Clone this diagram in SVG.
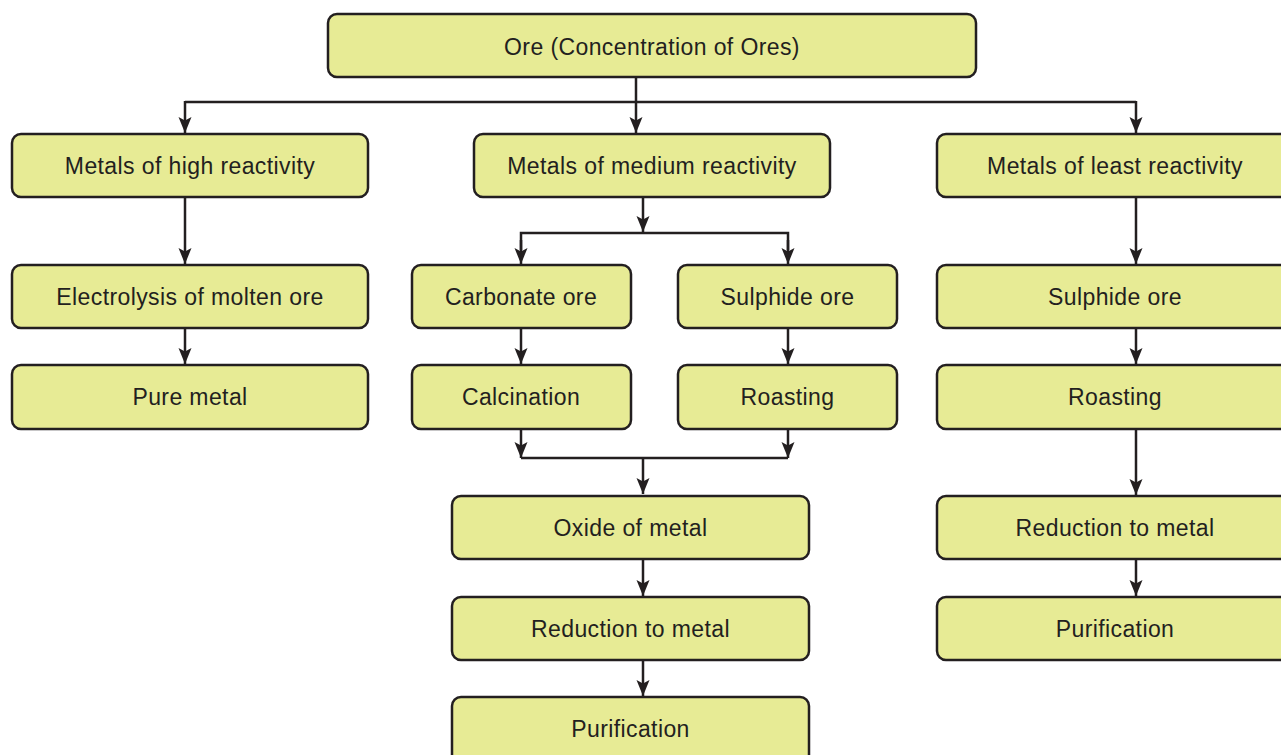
<svg xmlns="http://www.w3.org/2000/svg" width="1281" height="755" viewBox="0 0 1281 755">
<defs>
<style>
.box{fill:#e7eb95;stroke:#231f20;stroke-width:2.5}
.lbl{font-family:"Liberation Sans",Arial,sans-serif;font-size:23px;letter-spacing:0.4px;fill:#231f20;text-anchor:middle}
.ln{fill:none;stroke:#231f20;stroke-width:2.5}
.ar{fill:none;stroke:#231f20;stroke-width:2.5;marker-end:url(#ah)}
</style>
<marker id="ah" markerUnits="userSpaceOnUse" markerWidth="17" markerHeight="15" viewBox="0 0 17 15" refX="16" refY="7.5" orient="auto">
<path d="M0,1 L16,7.5 L0,14 L3.5,7.5 Z" fill="#231f20"/>
</marker>
</defs>
<rect width="1281" height="755" fill="#ffffff"/>
<g id="connectors">
<line class="ar" x1="636" y1="77" x2="636" y2="133"/>
<polyline class="ln" points="185,102 1136,102"/>
<line class="ar" x1="185" y1="101" x2="185" y2="133"/>
<line class="ar" x1="1136" y1="101" x2="1136" y2="133"/>
<line class="ar" x1="185" y1="197" x2="185" y2="264"/>
<line class="ar" x1="185" y1="328" x2="185" y2="364"/>
<line class="ar" x1="643" y1="197" x2="643" y2="232"/>
<polyline class="ln" points="521,250 521,233 788,233 788,250"/>
<line class="ar" x1="521" y1="240" x2="521" y2="264"/>
<line class="ar" x1="788" y1="240" x2="788" y2="264"/>
<line class="ar" x1="521" y1="328" x2="521" y2="364"/>
<line class="ar" x1="788" y1="328" x2="788" y2="364"/>
<line class="ar" x1="521" y1="429" x2="521" y2="458"/>
<line class="ar" x1="788" y1="429" x2="788" y2="458"/>
<polyline class="ln" points="521,458 788,458"/>
<line class="ar" x1="643" y1="458" x2="643" y2="494"/>
<line class="ar" x1="643" y1="559" x2="643" y2="596"/>
<line class="ar" x1="643" y1="660" x2="643" y2="696"/>
<line class="ar" x1="1136" y1="197" x2="1136" y2="264"/>
<line class="ar" x1="1136" y1="328" x2="1136" y2="364"/>
<line class="ar" x1="1136" y1="429" x2="1136" y2="495"/>
<line class="ar" x1="1136" y1="559" x2="1136" y2="596"/>
</g>
<g id="ore"><rect class="box" x="328" y="14" width="648" height="63" rx="9"/><text class="lbl" x="652" y="55">Ore (Concentration of Ores)</text></g>
<g id="high"><rect class="box" x="12" y="134" width="356" height="63" rx="9"/><text class="lbl" x="190" y="174">Metals of high reactivity</text></g>
<g id="medium"><rect class="box" x="474" y="134" width="356" height="63" rx="9"/><text class="lbl" x="652" y="174">Metals of medium reactivity</text></g>
<g id="least"><rect class="box" x="937" y="134" width="356" height="63" rx="9"/><text class="lbl" x="1115" y="174">Metals of least reactivity</text></g>
<g id="electrolysis"><rect class="box" x="12" y="265" width="356" height="63" rx="9"/><text class="lbl" x="190" y="305">Electrolysis of molten ore</text></g>
<g id="pure"><rect class="box" x="12" y="365" width="356" height="64" rx="9"/><text class="lbl" x="190" y="405">Pure metal</text></g>
<g id="carbonate"><rect class="box" x="412" y="265" width="219" height="63" rx="9"/><text class="lbl" x="521" y="304.5">Carbonate ore</text></g>
<g id="sulphide-m"><rect class="box" x="678" y="265" width="219" height="63" rx="9"/><text class="lbl" x="787.5" y="304.5">Sulphide ore</text></g>
<g id="calcination"><rect class="box" x="412" y="365" width="219" height="64" rx="9"/><text class="lbl" x="521" y="404.5">Calcination</text></g>
<g id="roasting-m"><rect class="box" x="678" y="365" width="219" height="64" rx="9"/><text class="lbl" x="787.5" y="404.5">Roasting</text></g>
<g id="oxide"><rect class="box" x="452" y="496" width="357" height="63" rx="9"/><text class="lbl" x="630.5" y="535.5">Oxide of metal</text></g>
<g id="reduction-m"><rect class="box" x="452" y="597" width="357" height="63" rx="9"/><text class="lbl" x="630.5" y="636.5">Reduction to metal</text></g>
<g id="purification-m"><rect class="box" x="452" y="697" width="357" height="70" rx="9"/><text class="lbl" x="630.5" y="736.5">Purification</text></g>
<g id="sulphide-l"><rect class="box" x="937" y="265" width="356" height="63" rx="9"/><text class="lbl" x="1115" y="305">Sulphide ore</text></g>
<g id="roasting-l"><rect class="box" x="937" y="365" width="356" height="64" rx="9"/><text class="lbl" x="1115" y="405">Roasting</text></g>
<g id="reduction-l"><rect class="box" x="937" y="496" width="356" height="63" rx="9"/><text class="lbl" x="1115" y="535.5">Reduction to metal</text></g>
<g id="purification-l"><rect class="box" x="937" y="597" width="356" height="63" rx="9"/><text class="lbl" x="1115" y="636.5">Purification</text></g>
</svg>
